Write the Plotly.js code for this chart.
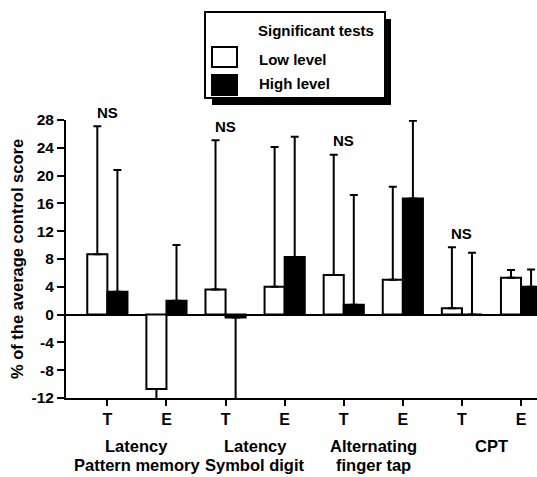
<!DOCTYPE html>
<html>
<head>
<meta charset="utf-8">
<script src="https://cdn.plot.ly/plotly-3.0.1.min.js"></script>
<style>
  html, body { margin: 0; padding: 0; background: #fff; }
  #chart { width: 537px; height: 477px; }
</style>
</head>
<body>
<div id="chart"></div>
<script>
// ---- data ----
const tests = ["Latency Pattern memory", "Latency Symbol digit", "Alternating finger tap", "CPT"];
const conditions = ["T", "E"];
const groupLine1 = ["Latency", "Latency", "Alternating", "CPT"];
const groupLine2 = ["Pattern memory", "Symbol digit", "finger tap", ""];
const lowValues  = [8.7, -10.7, 3.6, 4.0, 5.7, 5.0, 0.9, 5.3];
const lowErr     = [18.4, 12.0, 21.5, 20.1, 17.3, 13.4, 8.8, 1.1];
const highValues = [3.3, 2.0, -0.4, 8.3, 1.4, 16.7, 0.0, 4.0];
const highErr    = [17.5, 8.0, 14.0, 17.3, 15.8, 11.2, 8.9, 2.5];
const nsFlags    = [true, false, true, false, true, false, true, false];
const yTicks     = [-12, -8, -4, 0, 4, 8, 12, 16, 20, 24, 28];
const legendTitle = "Significant tests";
const seriesNames = ["Low level", "High level"];

// ---- build ----
const categories = [];
const tickText = [];
tests.forEach(t => conditions.forEach(c => { categories.push(t + " " + c); tickText.push(c); }));

const FONT = "Liberation Sans, Arial, Helvetica, sans-serif";
const plus  = (v, e) => v.map((x, i) => x >= 0 ? e[i] : 0);
const minus = (v, e) => v.map((x, i) => x < 0 ? e[i] : 0);

const traces = [
  {
    type: "bar", name: seriesNames[0], x: categories, y: lowValues,
    marker: { color: "#ffffff", line: { color: "#000", width: 2 } },
    error_y: { type: "data", symmetric: false, array: plus(lowValues, lowErr), arrayminus: minus(lowValues, lowErr),
               color: "#000", thickness: 2, width: 4 },
    showlegend: false, hoverinfo: "skip"
  },
  {
    type: "bar", name: seriesNames[1], x: categories, y: highValues,
    marker: { color: "#000000", line: { color: "#000", width: 2 } },
    error_y: { type: "data", symmetric: false, array: plus(highValues, highErr), arrayminus: minus(highValues, highErr),
               color: "#000", thickness: 2, width: 4 },
    showlegend: false, hoverinfo: "skip"
  }
];

// plot geometry helpers (pixel -> paper)
const L = 66, R = 0, T = 120, B = 79, W = 537, H = 477;
const pw = W - L - R, ph = H - T - B;
const px = p => (p - L) / pw;
const py = p => (H - B - p) / ph;

const annotations = [];
categories.forEach((c, i) => {
  if (nsFlags[i]) {
    annotations.push({ x: c, y: lowValues[i] + lowErr[i], xref: "x", yref: "y", text: "NS",
      showarrow: false, yshift: 14, font: { family: FONT, size: 15, color: "#000", weight: "bold" } });
  }
});
tests.forEach((t, g) => {
  const xc = 2 * g + 0.5;
  annotations.push({ x: xc, y: 0, xref: "x", yref: "paper", text: groupLine1[g], showarrow: false,
    yanchor: "middle", yshift: -48, font: { family: FONT, size: 16.5, color: "#000", weight: "bold" } });
  if (groupLine2[g]) annotations.push({ x: xc, y: 0, xref: "x", yref: "paper", text: groupLine2[g], showarrow: false,
    yanchor: "middle", yshift: -67, font: { family: FONT, size: 16.5, color: "#000", weight: "bold" } });
});
// legend texts
annotations.push({ x: px(256), y: py(30), xref: "paper", yref: "paper", xanchor: "left", yanchor: "middle",
  text: legendTitle, showarrow: false, font: { family: FONT, size: 15, color: "#000", weight: "bold" } });
annotations.push({ x: px(257), y: py(59), xref: "paper", yref: "paper", xanchor: "left", yanchor: "middle",
  text: seriesNames[0], showarrow: false, font: { family: FONT, size: 15, color: "#000", weight: "bold" } });
annotations.push({ x: px(257), y: py(84), xref: "paper", yref: "paper", xanchor: "left", yanchor: "middle",
  text: seriesNames[1], showarrow: false, font: { family: FONT, size: 15, color: "#000", weight: "bold" } });

const shapes = [
  // legend shadow
  { type: "rect", xref: "paper", yref: "paper", x0: px(212), x1: px(391), y0: py(19), y1: py(105),
    fillcolor: "#000", line: { width: 0 }, layer: "above" },
  // legend box
  { type: "rect", xref: "paper", yref: "paper", x0: px(205), x1: px(385), y0: py(12), y1: py(98),
    fillcolor: "#fff", line: { color: "#000", width: 2 }, layer: "above" },
  // swatches
  { type: "rect", xref: "paper", yref: "paper", x0: px(212), x1: px(237), y0: py(47), y1: py(67),
    fillcolor: "#fff", line: { color: "#000", width: 2 }, layer: "above" },
  { type: "rect", xref: "paper", yref: "paper", x0: px(212), x1: px(237), y0: py(75), y1: py(95),
    fillcolor: "#000", line: { color: "#000", width: 2 }, layer: "above" }
];

const layout = {
  width: W, height: H,
  margin: { l: L, r: R, t: T, b: B, pad: 0 },
  paper_bgcolor: "#fff", plot_bgcolor: "#fff",
  barmode: "group", bargap: 0.32, bargroupgap: 0,
  showlegend: false,
  font: { family: FONT, color: "#000" },
  xaxis: {
    type: "category", categoryorder: "array", categoryarray: categories,
    tickvals: categories, ticktext: tickText,
    range: [-0.7, 7.27], showgrid: false, zeroline: false,
    showline: true, linecolor: "#000", linewidth: 2,
    ticks: "outside", ticklen: 6, tickwidth: 2, tickcolor: "#000",
    tickfont: { family: FONT, size: 16, color: "#000", weight: "bold" },
    fixedrange: true
  },
  yaxis: {
    range: [-12, 28], tickvals: yTicks, ticktext: yTicks.map(String),
    showgrid: false, zeroline: true, zerolinecolor: "#000", zerolinewidth: 2,
    showline: true, linecolor: "#000", linewidth: 2,
    ticks: "outside", ticklen: 7, tickwidth: 2, tickcolor: "#000",
    tickfont: { family: FONT, size: 15.5, color: "#000", weight: "bold" },
    title: { text: "% of the average control score", standoff: 4,
             font: { family: FONT, size: 16.5, color: "#000", weight: "bold" } },
    fixedrange: true
  },
  annotations: annotations,
  shapes: shapes
};

Plotly.newPlot("chart", traces, layout, { staticPlot: true, displayModeBar: false });
</script>
</body>
</html>
